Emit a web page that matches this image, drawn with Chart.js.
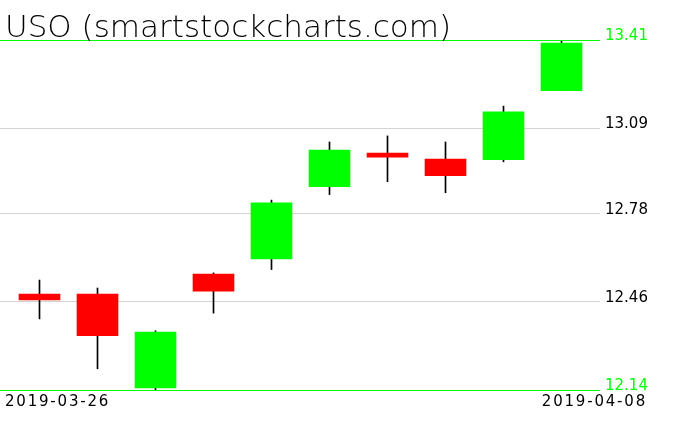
<!DOCTYPE html>
<html>
<head>
<meta charset="utf-8">
<script src="https://cdn.jsdelivr.net/npm/chart.js@4/dist/chart.umd.min.js"></script>
<style>
  html, body { margin: 0; padding: 0; background: #fff; }
  #wrap { width: 676px; height: 431px; position: relative; }
</style>
</head>
<body>
<div id="wrap"><canvas id="c"></canvas></div>
<script>
const title = "USO (smartstockcharts.com)";
const dates = ["2019-03-26","2019-03-27","2019-03-28","2019-03-29","2019-04-01","2019-04-02","2019-04-03","2019-04-04","2019-04-05","2019-04-08"];
const openVals  = [12.488, 12.488, 12.148, 12.561, 12.616, 12.878, 13.000, 12.978, 12.976, 13.226];
const highVals  = [12.539, 12.510, 12.355, 12.565, 12.829, 13.040, 13.062, 13.040, 13.170, 13.405];
const lowVals   = [12.398, 12.217, 12.140, 12.419, 12.577, 12.849, 12.896, 12.856, 12.968, 13.226];
const closeVals = [12.467, 12.337, 12.350, 12.499, 12.819, 13.011, 12.985, 12.918, 13.149, 13.399];
const yTicks = [12.14, 12.46, 12.78, 13.09, 13.41];

const UP = '#00ff00', DOWN = '#ff0000';
const bodyData = dates.map((d, i) => ({ x: i, y: [openVals[i], closeVals[i]] }));
const wickData = dates.map((d, i) => ({ x: i, y: [lowVals[i], highVals[i]] }));
const bodyColors = dates.map((d, i) => closeVals[i] >= openVals[i] ? UP : DOWN);

const textPlugin = {
  id: 'texts',
  afterDraw(chart) {
    const ctx = chart.ctx;
    ctx.save();
    ctx.fillStyle = '#000';
    ctx.textBaseline = 'alphabetic';
    ctx.font = '300 31px "DejaVu Sans"';
    ctx.textAlign = 'left';
    ctx.fillText(title, 5, 37);
    ctx.font = '15px "DejaVu Sans"';
    try { ctx.letterSpacing = '1.8px'; } catch (e) {}
    ctx.fillText(dates[0], 5, 406);
    ctx.textAlign = 'right';
    ctx.fillText(dates[dates.length - 1], 647, 406);
    ctx.restore();
  }
};

new Chart(document.getElementById('c'), {
  type: 'bar',
  data: {
    datasets: [
      { label: 'body', data: bodyData, backgroundColor: bodyColors, borderWidth: 0, barThickness: 41, grouped: false, order: 1 },
      { label: 'wick', data: wickData, backgroundColor: '#000', borderWidth: 0, barThickness: 1, grouped: false, order: 2 }
    ]
  },
  options: {
    responsive: true,
    maintainAspectRatio: false,
    animation: false,
    layout: { padding: { top: 40, bottom: 41, left: 0, right: 0 } },
    plugins: { legend: { display: false }, tooltip: { enabled: false }, title: { display: false } },
    scales: {
      x: {
        type: 'linear',
        display: false,
        min: -39.5 / 58,
        max: -39.5 / 58 + 600 / 58,
        offset: false
      },
      y: {
        position: 'right',
        min: yTicks[0],
        max: yTicks[yTicks.length - 1],
        afterBuildTicks(scale) { scale.ticks = yTicks.map(v => ({ value: v })); },
        afterFit(scale) { scale.width = 76; },
        border: { display: false },
        grid: {
          drawTicks: false,
          lineWidth: 1,
          color: (ctx) => (ctx.index === 0 || ctx.index === yTicks.length - 1) ? UP : '#d3d3d3'
        },
        ticks: {
          padding: 5,
          labelOffset: -4,
          font: { family: 'DejaVu Sans', size: 15 },
          color: (ctx) => (ctx.index === 0 || ctx.index === yTicks.length - 1) ? UP : '#000',
          callback: (v) => Number(v).toFixed(2)
        }
      }
    }
  },
  plugins: [textPlugin]
});
</script>
</body>
</html>
